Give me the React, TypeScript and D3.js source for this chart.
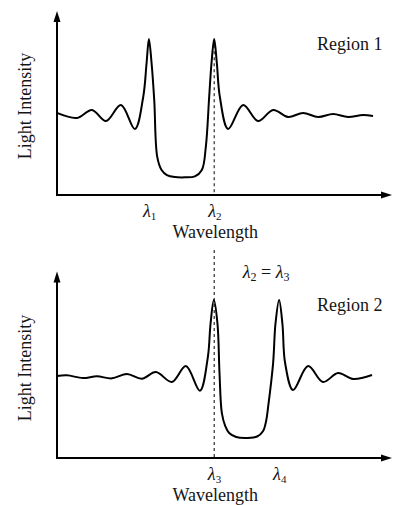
import React from "react";
import { curveCatmullRom, line, scaleLinear } from "d3";

// wavelength in arbitrary units (0-100 along the axis), intensity relative to peak height
const region1Wavelength = [0, 6.0, 10.5, 14.7, 19.2, 23.4, 25.9, 26.9, 27.6, 28.4, 29.2, 30.1, 31.4, 33.0, 35.4, 38.4, 41.4, 43.5, 44.7, 45.7, 46.4, 47.2, 48.0, 48.9, 51.4, 55.9, 60.4, 64.9, 69.4, 73.9, 78.4, 82.9, 87.4, 91.9, 94.9];
const region1Intensity = [0.526, 0.494, 0.545, 0.474, 0.577, 0.423, 0.63, 0.846, 1.0, 0.846, 0.609, 0.244, 0.16, 0.128, 0.115, 0.113, 0.119, 0.16, 0.31, 0.63, 0.846, 1.0, 0.846, 0.63, 0.423, 0.577, 0.474, 0.545, 0.5, 0.526, 0.5, 0.519, 0.5, 0.513, 0.506];

const region2Wavelength = [0, 3.0, 7.8, 12.0, 16.5, 21.0, 25.5, 29.7, 34.5, 38.7, 42.9, 45.3, 46.1, 47.1, 48.2, 48.8, 49.5, 50.5, 51.7, 53.8, 57.1, 60.1, 61.9, 62.8, 63.4, 64.9, 65.6, 66.7, 67.7, 68.5, 70.9, 75.4, 79.9, 84.4, 88.9, 94.6];
const region2Intensity = [0.519, 0.523, 0.506, 0.517, 0.504, 0.532, 0.502, 0.544, 0.481, 0.582, 0.426, 0.639, 0.848, 1.0, 0.848, 0.538, 0.285, 0.203, 0.158, 0.133, 0.127, 0.136, 0.171, 0.234, 0.323, 0.601, 0.848, 1.0, 0.848, 0.601, 0.43, 0.582, 0.481, 0.538, 0.5, 0.525];

// peak markers under the x axis
const region1Peaks = [27.6, 47.2];
const region1PeakLabels = ["1", "2"];
const region2Peaks = [47.1, 66.7];
const region2PeakLabels = ["3", "4"];

const regionNames = ["Region 1", "Region 2"];

const W = 393;
const H = 505;
const serif = "'Liberation Serif', 'Times New Roman', serif";
const ink = "#151515";

const x = scaleLinear().domain([0, 100]).range([57, 390]);

const panels = [
    {
        name: regionNames[0],
        xs: region1Wavelength,
        ys: region1Intensity,
        peaks: region1Peaks,
        peakLabels: region1PeakLabels,
        y: scaleLinear().domain([0, 1]).range([195, 39]),
    },
    {
        name: regionNames[1],
        xs: region2Wavelength,
        ys: region2Intensity,
        peaks: region2Peaks,
        peakLabels: region2PeakLabels,
        y: scaleLinear().domain([0, 1]).range([458, 300]),
    },
];

const App: React.FC = () => {
    const shared = x(region1Peaks[1]);
    return (
        <svg
            width={W}
            height={H}
            style={{ position: "absolute", left: 0, top: 0, background: "#fff" }}
            fontFamily={serif}
        >
            {panels.map((p, i) => {
                const y = p.y;
                const pts = p.xs.map((d, k) => [d, p.ys[k]] as [number, number]);
                const path = line<[number, number]>()
                    .x(d => x(d[0]))
                    .y(d => y(d[1]))
                    .curve(curveCatmullRom.alpha(0.5))(pts);
                const x0 = x(0);
                const y0 = y(0);
                const xEnd = x(100);
                const yTop = y(1.18);
                return (
                    <g key={i}>
                        {/* axes with arrow heads */}
                        <line x1={x0} y1={y0} x2={x0} y2={yTop + 8} stroke="#000" strokeWidth={2} />
                        <line x1={x0 - 1} y1={y0} x2={xEnd - 6} y2={y0} stroke="#000" strokeWidth={2} />
                        <path d={`M${x0},${yTop} L${x0 - 3.5},${yTop + 11} L${x0 + 3.5},${yTop + 11} Z`} fill="#000" />
                        <path d={`M${xEnd + 2},${y0} L${xEnd - 9},${y0 - 3.5} L${xEnd - 9},${y0 + 3.5} Z`} fill="#000" />

                        <path d={path || ""} fill="none" stroke="#000" strokeWidth={2} strokeLinejoin="round" />

                        {p.peaks.map((pk, k) => (
                            <text key={k} x={x(pk) - 6} y={y0 + 22} fontSize={18} fill={ink}>
                                <tspan fontStyle="italic">λ</tspan>
                                <tspan fontSize={11} dy={2.5}>{p.peakLabels[k]}</tspan>
                            </text>
                        ))}

                        <text x={x(47.5)} y={y0 + 43} fontSize={18} textAnchor="middle" fill={ink}>
                            Wavelength
                        </text>
                        <text
                            transform={`translate(31,${y(0.57)}) rotate(-90)`}
                            fontSize={18}
                            textAnchor="middle"
                            fill={ink}
                        >
                            Light Intensity
                        </text>
                        <text x={x(78.1)} y={y(0.93)} fontSize={18} fill={ink}>
                            {p.name}
                        </text>
                    </g>
                );
            })}

            {/* dashed guide through the shared wavelength */}
            <line x1={shared} y1={panels[0].y(0.96)} x2={shared} y2={panels[0].y(0)} stroke="#000" strokeWidth={1} strokeDasharray="3,3" />
            <line x1={shared} y1={250} x2={shared} y2={panels[1].y(0)} stroke="#000" strokeWidth={1} strokeDasharray="3,3" />

            <text x={x(62.8)} y={panels[1].y(1.14)} fontSize={18} textAnchor="middle" fill={ink}>
                <tspan fontStyle="italic">λ</tspan>
                <tspan fontSize={12} dy={3}>2</tspan>
                <tspan dy={-3}> = </tspan>
                <tspan fontStyle="italic">λ</tspan>
                <tspan fontSize={12} dy={3}>3</tspan>
            </text>
        </svg>
    );
};

export default App;
